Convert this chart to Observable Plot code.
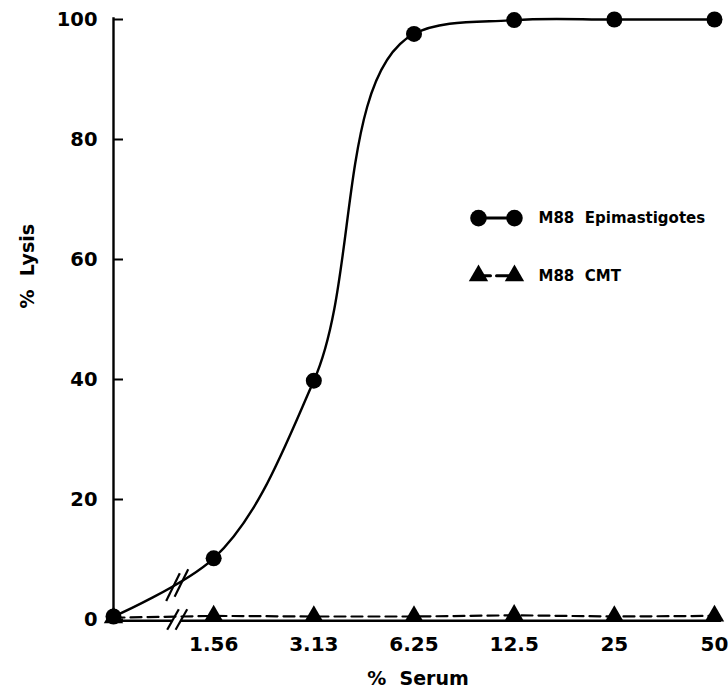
<!DOCTYPE html>
<html>
<head>
<meta charset="utf-8">
<script src="https://cdn.jsdelivr.net/npm/d3@7"></script>
<script src="https://cdn.jsdelivr.net/npm/@observablehq/plot@0.6"></script>
<style>
  body { margin: 0; background: #fff; }
  svg { font-family: "DejaVu Sans", sans-serif; }
</style>
</head>
<body>
<div id="chart"></div>
<script>
// Serum concentrations (x categories, placed at equal steps; 0 before the axis break)
const serumLabels = ["0", "1.56", "3.13", "6.25", "12.5", "25", "50"];
const serumIndex = [0, 1, 2, 3, 4, 5, 6];
// % Lysis values
const epimastigotes = [0.5, 10.2, 39.8, 97.6, 99.9, 100, 100];
const cmt = [0.3, 0.6, 0.5, 0.5, 0.7, 0.5, 0.6];
const yTicks = [0, 20, 40, 60, 80, 100];
const seriesNames = ["M88\u00a0\u00a0Epimastigotes", "M88\u00a0\u00a0CMT"];

const epiData = serumIndex.map((i, k) => ({x: i, y: epimastigotes[k]}));
const cmtData = serumIndex.map((i, k) => ({x: i, y: cmt[k]}));

// layout constants (axis break and in-plot legend)
const breakXs = [0.594, 0.678];
const legendX = [3.644, 4.003];
const legendTextX = 4.243;
const legendY = [66.9, 57.3];

const slashes = [];
for (const bx of breakXs) {
  slashes.push({x1: bx - 0.058, y1: -1.7, x2: bx + 0.058, y2: 1.7});
  const cy = epimastigotes[0] + (epimastigotes[1] - epimastigotes[0]) * bx * 0.85;
  slashes.push({x1: bx - 0.068, y1: cy - 2.3, x2: bx + 0.068, y2: cy + 2.3});
}

const font = 20;
const plot = Plot.plot({
  width: 728,
  height: 698,
  marginLeft: 113,
  marginRight: 14,
  marginTop: 19,
  marginBottom: 79,
  style: {fontSize: font + "px", fontWeight: "bold", color: "#000", background: "#fff"},
  x: {domain: [0, 6]},
  y: {domain: [0, 100]},
  marks: [
    Plot.axisY({ticks: yTicks, tickSize: 0, tickPadding: 16, label: null, fontSize: 19.5, fontWeight: "bold"}),
    Plot.axisX({ticks: serumIndex.slice(1), tickFormat: (d) => serumLabels[d], tickSize: 0, tickPadding: 17, label: null, fontSize: font, fontWeight: "bold"}),
    Plot.ruleX([0], {y1: 0, y2: 100.3, stroke: "#000", strokeWidth: 2.4}),
    Plot.ruleY([-0.2], {x1: 0, x2: 6.07, stroke: "#000", strokeWidth: 2.4}),
    Plot.ruleY(yTicks, {x1: 0, x2: 0.1, stroke: "#000", strokeWidth: 2}),
    // axis-break gap on the x axis
    Plot.rect([0], {x1: breakXs[0], x2: breakXs[1], y1: -1.2, y2: 0.9, fill: "#fff"}),
    Plot.line(cmtData, {x: "x", y: "y", stroke: "#000", strokeWidth: 2.2, strokeDasharray: "11,6"}),
    Plot.line(epiData, {x: "x", y: "y", curve: d3.curveCatmullRom.alpha(0.8), stroke: "#000", strokeWidth: 2.4}),
    Plot.link(slashes, {x1: "x1", y1: "y1", x2: "x2", y2: "y2", stroke: "#000", strokeWidth: 2.2}),
    Plot.dot(cmtData, {x: "x", y: "y", symbol: "triangle", r: 7.2, fill: "#000"}),
    Plot.dot(epiData, {x: "x", y: "y", r: 8, fill: "#000"}),
    // legend
    Plot.line(legendX.map(x => ({x, y: legendY[0]})), {x: "x", y: "y", stroke: "#000", strokeWidth: 3}),
    Plot.dot(legendX.map(x => ({x, y: legendY[0]})), {x: "x", y: "y", r: 8.3, fill: "#000"}),
    Plot.line(legendX.map(x => ({x, y: legendY[1]})), {x: "x", y: "y", stroke: "#000", strokeWidth: 3, strokeDasharray: "12,6"}),
    Plot.dot(legendX.map(x => ({x, y: legendY[1]})), {x: "x", y: "y", symbol: "triangle", r: 7.2, fill: "#000"}),
    Plot.text(seriesNames.map((t, k) => ({t, y: legendY[k]})), {x: () => legendTextX, y: "y", text: "t", textAnchor: "start", fontSize: 15, fontWeight: "bold", fill: "#000"}),
    Plot.text(["%\u00a0\u00a0Serum"], {frameAnchor: "bottom", dx: 4, dy: 65, fontSize: 19, fontWeight: "bold", fill: "#000"}),
    Plot.text(["%\u00a0\u00a0Lysis"], {frameAnchor: "left", dx: -86, dy: -11, rotate: -90, fontSize: 19, fontWeight: "bold", fill: "#000"})
  ]
});
document.getElementById("chart").appendChild(plot);
</script>
</body>
</html>
